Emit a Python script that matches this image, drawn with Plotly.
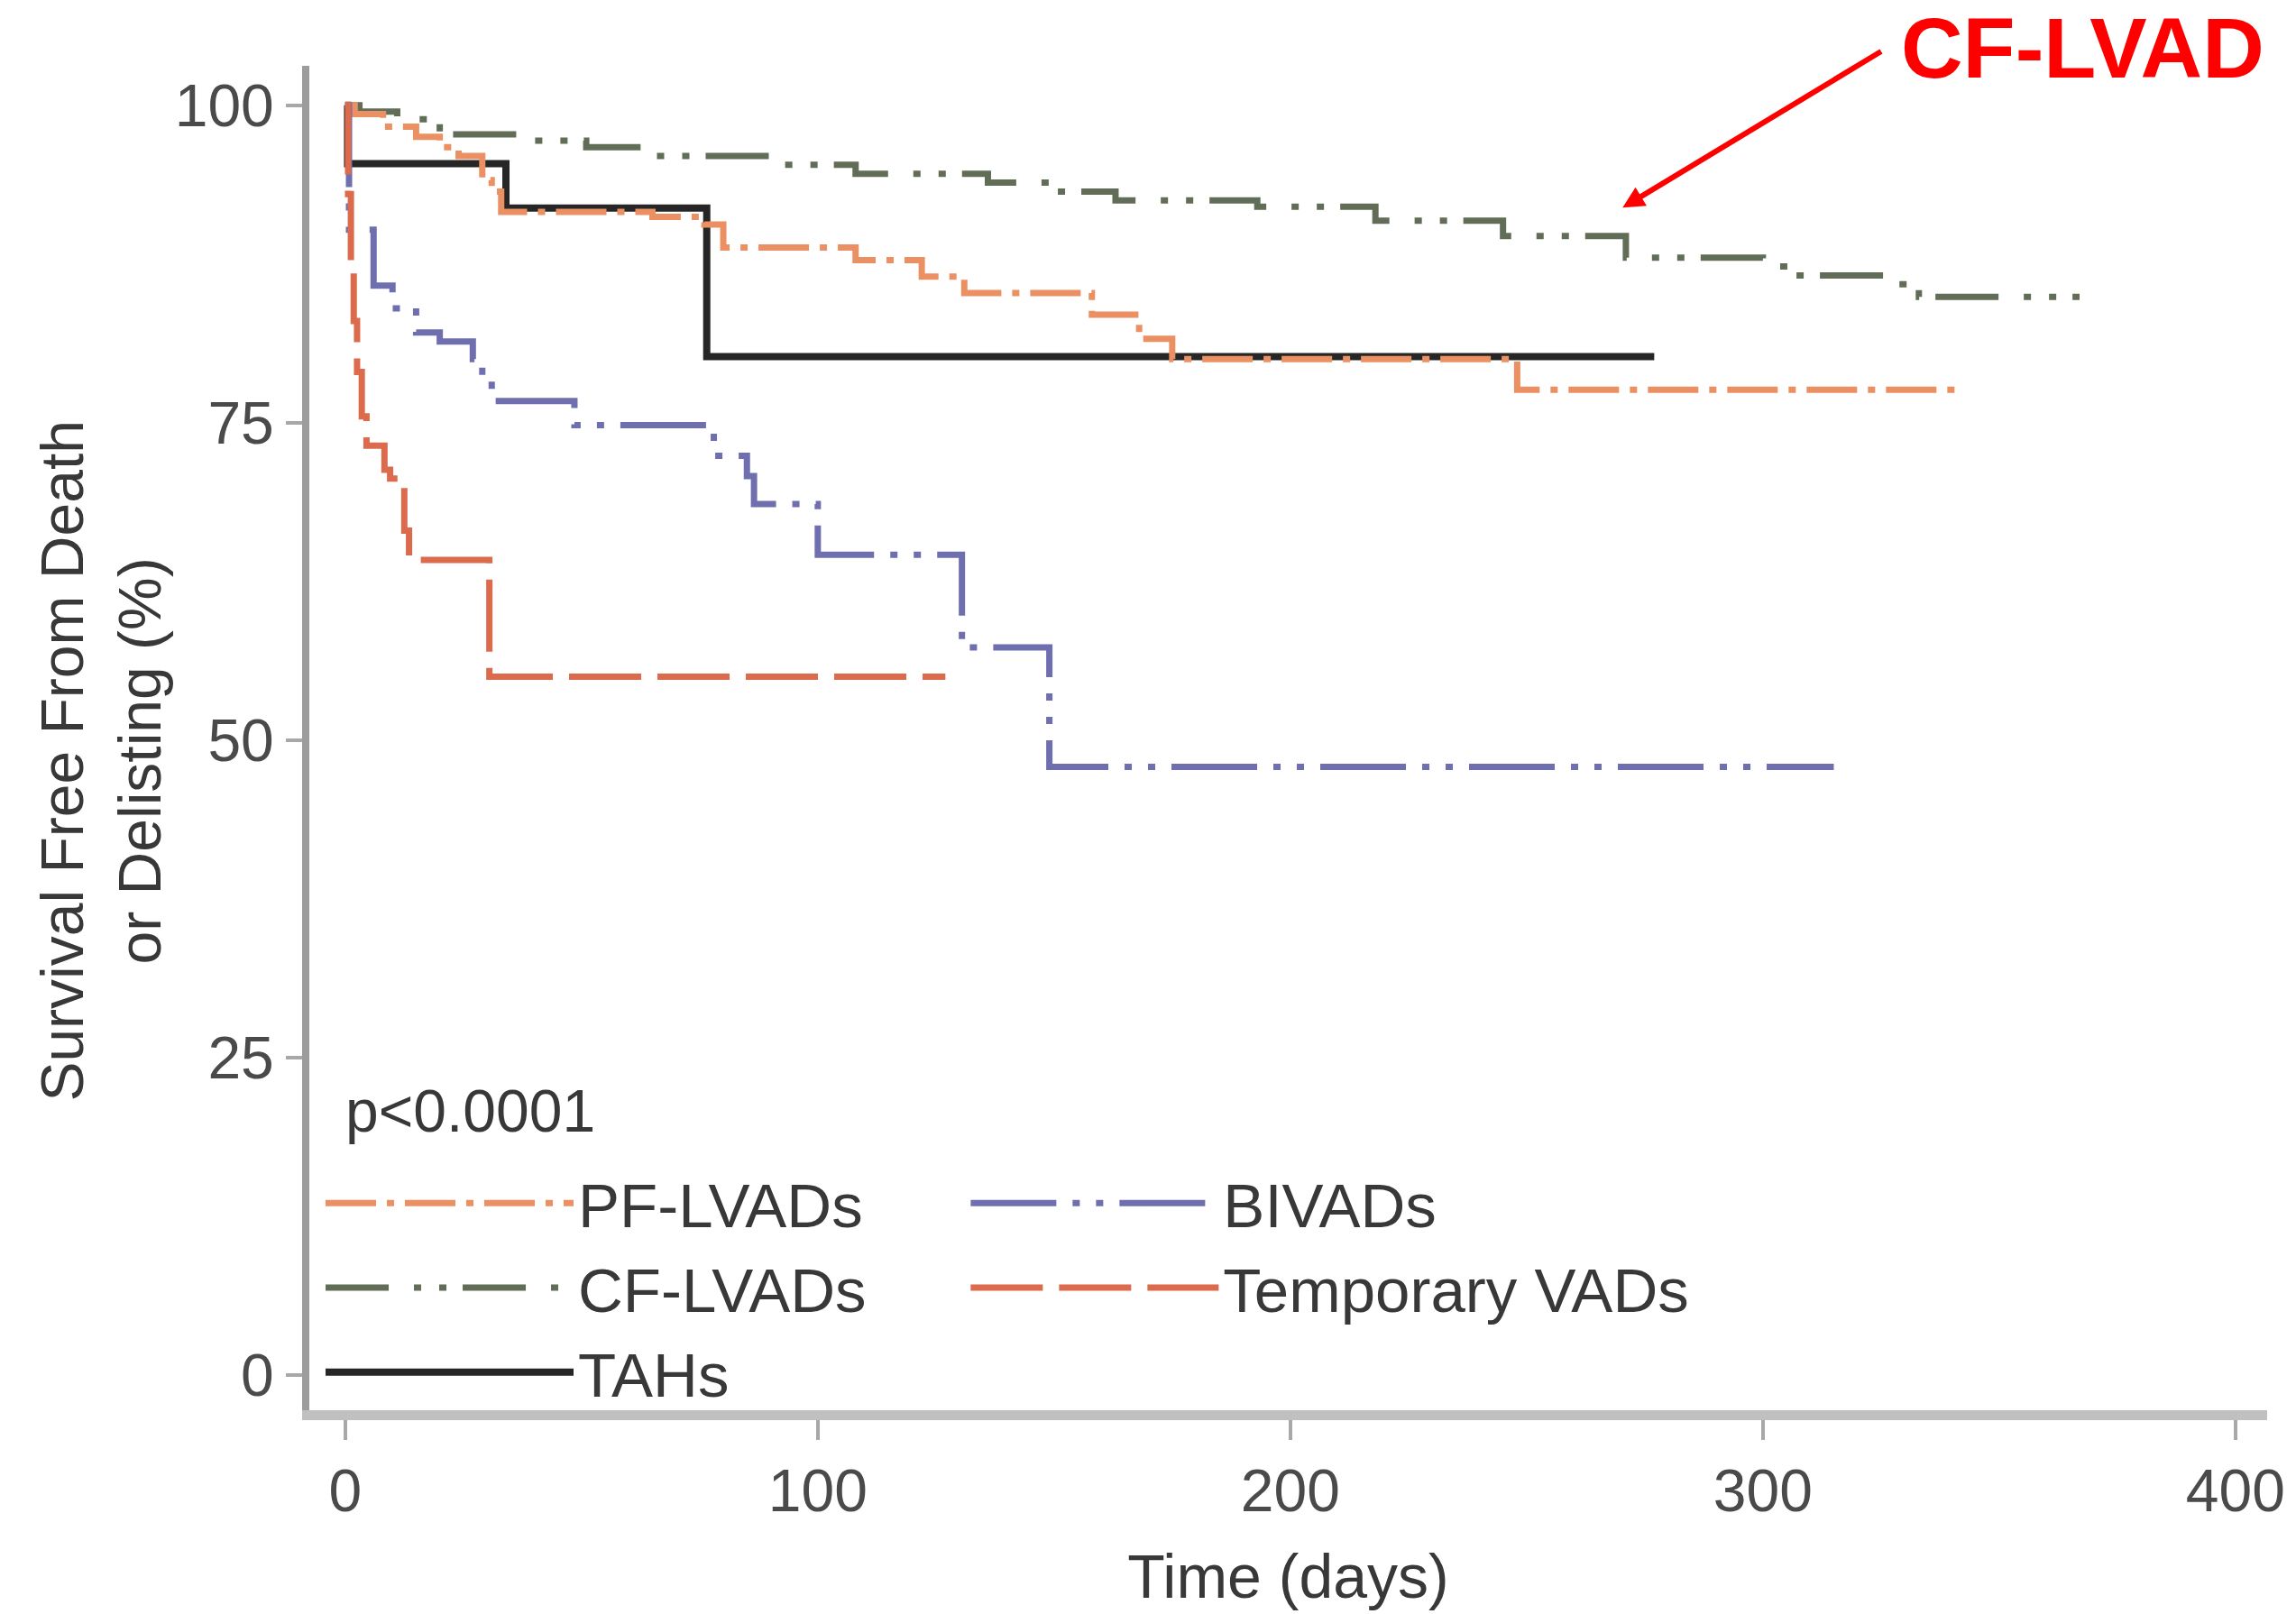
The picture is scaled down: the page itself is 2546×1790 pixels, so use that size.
import plotly.graph_objects as go

# ---------------- data ----------------
pf_days = [0, 2, 8, 15, 20, 24, 29, 31, 33, 65, 76, 80, 108, 122, 131, 158, 168, 175, 248, 341]
pf_surv = [100, 99.3, 98.3, 97.5, 96.7, 96.0, 94.1, 93.2, 91.6, 91.2, 90.6, 88.8, 87.8, 86.5, 85.2, 83.5, 81.6, 80.0, 77.6, 77.6]

cf_days = [0, 3, 11, 20, 37, 51, 65, 91, 108, 136, 150, 163, 193, 218, 245, 271, 300, 307, 327, 333, 367]
cf_surv = [100, 99.5, 98.9, 97.7, 97.2, 96.7, 96.0, 95.3, 94.6, 93.9, 93.2, 92.5, 92.0, 90.9, 89.7, 88.0, 87.3, 86.6, 85.9, 84.9, 84.9]

tah_days = [0, 0.5, 34, 76.5, 277]
tah_surv = [100, 95.4, 91.9, 80.2, 80.2]

bi_days = [0, 0.8, 6, 10, 15, 20, 27, 29, 31, 48.5, 78, 85, 86.5, 100, 130.5, 149, 315]
bi_surv = [100, 90.2, 85.8, 84.0, 82.1, 81.4, 80.0, 78.6, 76.7, 74.8, 72.4, 70.8, 68.6, 64.6, 57.3, 47.9, 47.9]

tmp_days = [0, 0.6, 1.2, 1.8, 2.5, 3.5, 4.5, 8.3, 9.5, 12.5, 13.5, 30.5, 127]
tmp_surv = [100, 93, 87, 83, 79, 75.5, 73.2, 71.3, 70.6, 66.5, 64.2, 55.0, 55.0]

series_names = ["PF-LVADs", "CF-LVADs", "TAHs", "BIVADs", "Temporary VADs"]
x_ticks = [0, 100, 200, 300, 400]
y_ticks = [0, 25, 50, 75, 100]

FONT = "Liberation Sans, Arial, sans-serif"
TXT = "#383838"

fig = go.Figure()

# TAH drawn first so coloured curves sit on top of it
fig.add_trace(go.Scatter(x=tah_days, y=tah_surv, mode="lines", line_shape="hv",
                         name=series_names[2], legend="legend", legendrank=3, legendgroup="tah",
                         line=dict(color="#262626", width=8)))
fig.add_trace(go.Scatter(x=cf_days, y=cf_surv, mode="lines", line_shape="hv",
                         name=series_names[1], legend="legend", legendrank=2, legendgroup="cf",
                         line=dict(color="#626d57", width=7, dash="70px,28px,8px,20px,8px,18px")))
fig.add_trace(go.Scatter(x=pf_days, y=pf_surv, mode="lines", line_shape="hv",
                         name=series_names[0], legend="legend", legendrank=1, legendgroup="pf",
                         line=dict(color="#eb9062", width=7, dash="56px,12px,8px,12px")))
fig.add_trace(go.Scatter(x=bi_days, y=bi_surv, mode="lines", line_shape="hv",
                         name=series_names[3], legend="legend2", legendrank=1, legendgroup="bi",
                         line=dict(color="#6f6fb0", width=7, dash="95px,18px,8px,18px,8px,18px")))
fig.add_trace(go.Scatter(x=tmp_days, y=tmp_surv, mode="lines", line_shape="hv",
                         name=series_names[4], legend="legend2", legendrank=2, legendgroup="tmp",
                         line=dict(color="#dc6a4d", width=7, dash="80px,18px")))

axis_common = dict(showgrid=False, zeroline=False, ticks="outside", tickcolor="#a8a8a8",
                   tickwidth=4, tickfont=dict(family=FONT, size=66, color="#4a4a4a"))

legend_common = dict(xanchor="left", yanchor="top", bgcolor="rgba(0,0,0,0)",
                     itemwidth=275, tracegroupgap=1, font=dict(family=FONT, size=69, color=TXT),
                     orientation="v")

fig.update_layout(
    width=2546, height=1790, autosize=False,
    margin=dict(l=343, r=30, t=73, b=221, pad=0),
    paper_bgcolor="white", plot_bgcolor="white",
    font=dict(family=FONT, size=66, color=TXT),
    xaxis=dict(range=[-7.6, 406.7], tickvals=x_ticks, showline=True, linecolor="#c0c0c0",
               linewidth=11, ticklen=22,
               title=dict(text="Time (days)", font=dict(family=FONT, size=68, color=TXT), standoff=40),
               **axis_common),
    yaxis=dict(range=[-2.76, 103.1], tickvals=y_ticks, showline=True, linecolor="#9c9c9c",
               linewidth=8, ticklen=18, **axis_common),
    legend=dict(x=0.006, y=0.1885, **legend_common),
    legend2=dict(x=0.3355, y=0.1885, **legend_common),
    showlegend=True,
)

# y-axis title (two lines, rotated)
fig.add_annotation(text="Survival Free From Death<br>or Delisting (%)", textangle=-90,
                   xref="paper", yref="paper", x=-0.1063, y=0.4833,
                   xanchor="center", yanchor="middle", showarrow=False,
                   font=dict(family=FONT, size=66, color=TXT))

# p-value
fig.add_annotation(text="p&lt;0.0001", xref="paper", yref="paper", x=0.0175, y=0.2226,
                   xanchor="left", yanchor="middle", showarrow=False,
                   font=dict(family=FONT, size=66, color=TXT))

# red call-out
fig.add_annotation(text="<b>CF-LVAD</b>", xref="paper", yref="paper", x=0.906, y=1.0134,
                   xanchor="center", yanchor="middle", showarrow=False,
                   font=dict(family=FONT, size=95, color="#ff0000"))
fig.add_annotation(text="", x=270.3, y=91.93, xref="x", yref="y",
                   ax=325.3, ay=104.3, axref="x", ayref="y",
                   showarrow=True, arrowhead=2, arrowsize=0.8, arrowwidth=6,
                   arrowcolor="#ff0000", standoff=0)

fig.write_html("out.html")
